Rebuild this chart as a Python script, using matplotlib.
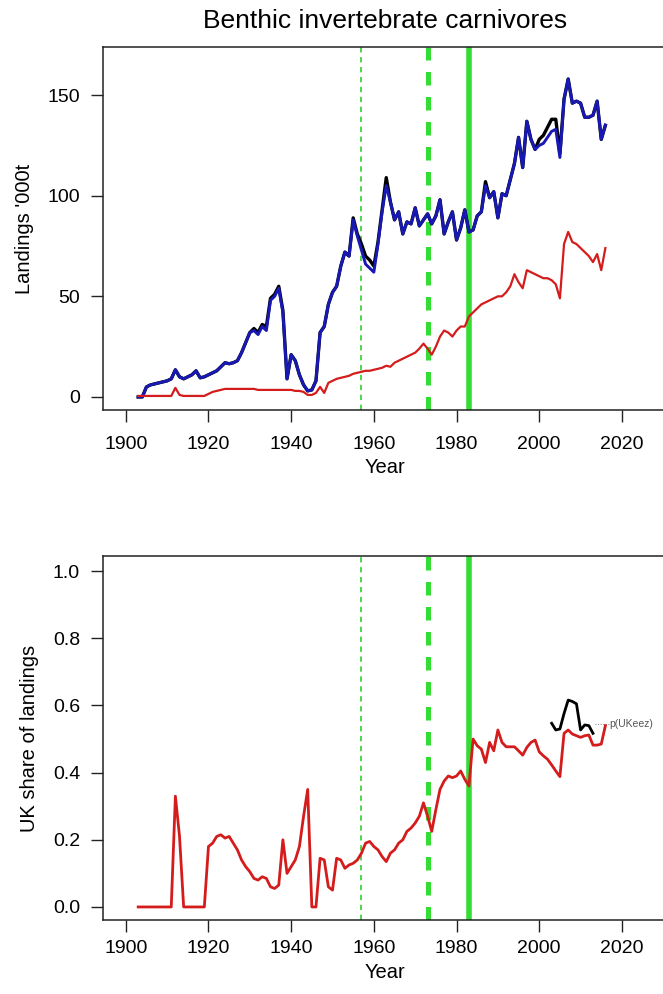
import numpy as np
import matplotlib
matplotlib.use('Agg')
from matplotlib import pyplot as plt

plt.rcParams['font.family'] = ['Liberation Sans', 'DejaVu Sans']

years = list(range(1903, 2017))

# landings '000t, total (black), total excl. something (blue), UK (red)
total_black = [0, 0, 5, 6, 6.5, 7, 7.5,
               8, 9, 13.5, 10, 9, 10, 11, 13, 9.5, 10,
               11, 12, 13, 15, 17, 16.5, 17, 18, 22, 27,
               32, 34, 32, 36, 35, 49, 51, 55, 43, 9,
               21, 18, 11, 6, 3, 3.5, 8, 32, 35, 46,
               52, 55, 65, 72, 70, 89, 81, 76, 70, 68,
               65, 77, 93, 109, 97, 88, 92, 81, 87, 86,
               94, 85, 88, 91, 86, 90, 98, 81, 87, 92,
               78, 84, 93, 82, 83, 90, 92, 107, 99, 102,
               89, 101, 100, 108, 116, 129, 114, 137, 128, 123,
               128, 130, 134, 138, 138, 121, 148, 158, 146, 147,
               146, 139, 139, 140, 147, 128, 135]
total_blue = [0, 0, 5, 6, 6.5, 7, 7.5,
              8, 9, 13.5, 10, 9, 10, 11, 13, 9.5, 10,
              11, 12, 13, 15, 17, 16.5, 17, 18, 22, 27,
              32, 33, 31, 35, 33, 48, 50, 54, 42, 9,
              21, 18, 11, 6, 3, 3.5, 8, 32, 35, 46,
              52, 55, 65, 72, 70, 88, 80, 73, 66, 64,
              62, 76, 92, 105, 97, 88, 92, 81, 87, 86,
              94, 85, 88, 91, 86, 90, 98, 81, 87, 92,
              78, 84, 93, 82, 83, 90, 92, 105, 99, 102,
              89, 101, 100, 108, 116, 129, 114, 137, 128, 123,
              125, 126, 129, 132, 133, 119, 148, 158, 146, 147,
              146, 139, 139, 140, 147, 128, 135]
uk_landings = [0.5, 0.5, 0.5, 0.5, 0.5, 0.5, 0.5,
               0.5, 0.5, 4.5, 1, 0.5, 0.5, 0.5, 0.5, 0.5, 0.5,
               1.5, 2.5, 3, 3.5, 4, 4, 4, 4, 4, 4,
               4, 4, 3.5, 3.5, 3.5, 3.5, 3.5, 3.5, 3.5, 3.5,
               3.5, 3, 3, 2.5, 1, 1, 2, 5, 2, 7,
               8, 9, 9.5, 10, 10.5, 11.5, 12, 12.5, 13, 13,
               13.5, 14, 14.5, 15.5, 15, 17, 18, 19, 20, 21,
               22, 24, 26.5, 24, 21, 25, 30, 33, 32, 30,
               33, 35, 35, 40, 42, 44, 46, 47, 48, 49,
               50, 50, 52, 55, 61, 57, 54, 63, 62, 61,
               60, 59, 59, 58, 56, 49, 76, 82, 77, 76,
               74, 72, 70, 67, 71, 63, 74]

uk_share = [0, 0, 0, 0, 0, 0, 0,
            0, 0, 0.33, 0.21, 0, 0, 0, 0, 0, 0,
            0.18, 0.19, 0.21, 0.215, 0.205, 0.21, 0.19, 0.17, 0.14, 0.12,
            0.105, 0.085, 0.08, 0.09, 0.085, 0.06, 0.055, 0.065, 0.2, 0.1,
            0.12, 0.14, 0.18, 0.27, 0.35, 0, 0, 0.145, 0.14, 0.06,
            0.05, 0.145, 0.14, 0.115, 0.125, 0.13, 0.14, 0.16, 0.19, 0.195,
            0.18, 0.17, 0.15, 0.135, 0.16, 0.17, 0.19, 0.2, 0.225, 0.235,
            0.25, 0.27, 0.31, 0.27, 0.225, 0.29, 0.35, 0.375, 0.39, 0.385,
            0.39, 0.405, 0.38, 0.36, 0.5, 0.48, 0.47, 0.43, 0.49, 0.465,
            0.527, 0.49, 0.477, 0.477, 0.477, 0.465, 0.452, 0.475, 0.49, 0.497,
            0.462, 0.45, 0.44, 0.423, 0.405, 0.388, 0.517, 0.527, 0.515, 0.51,
            0.505, 0.51, 0.512, 0.482, 0.482, 0.485, 0.54]

eez_years = list(range(2003, 2014))
eez_share = [0.547, 0.527, 0.53, 0.576, 0.616, 0.612, 0.605, 0.527, 0.542, 0.54, 0.517]
eez_label = 'p(UKeez)'

# regime change years
vline_years = [1957, 1973, 1983]
xticks = [1900, 1920, 1940, 1960, 1980, 2000, 2020]

green = '#33dd33'
red = '#d41c1c'
blue = '#1818b4'

fig = plt.figure(figsize=(6.63, 9.94), dpi=100)
ax1 = fig.add_axes([0.1554, 0.5875, 0.85, 0.3652])
ax2 = fig.add_axes([0.1554, 0.0744, 0.85, 0.3662])


def add_vlines(ax):
    ax.axvline(vline_years[0], color='#1fcc1f', lw=1.1, ls=(0, (3.5, 3)), zorder=1)
    ax.axvline(vline_years[1], color=green, lw=3.6, ls=(0, (2.7, 2.3)), zorder=1)
    ax.axvline(vline_years[2], color=green, lw=4, zorder=1)


def style_axes(ax, ylabel, xpad):
    ax.set_xlim(1894.5, 2030.8)
    ax.set_xticks(xticks)
    ax.tick_params(direction='out', length=8.5, width=1, labelsize=14, color='#222222')
    ax.tick_params(axis='y', pad=8)
    ax.tick_params(axis='x', pad=xpad)
    ax.set_xlabel('Year', fontsize=14.5, labelpad=4)
    ax.set_ylabel(ylabel, fontsize=14.5, labelpad=10)
    for s in ax.spines.values():
        s.set_linewidth(1.1)
        s.set_color('#222222')


# top panel: landings
add_vlines(ax1)
ax1.plot(years, total_black, color='black', lw=2.4, zorder=2)
ax1.plot(years, total_blue, color=blue, lw=2.1, zorder=3)
ax1.plot(years, uk_landings, color=red, lw=1.6, zorder=3)
ax1.set_ylim(-6.5, 173.9)
ax1.set_yticks([0, 50, 100, 150])
style_axes(ax1, "Landings '000t", 10)
ax1.set_title('Benthic invertebrate carnivores', fontsize=19, pad=14)

# bottom panel: UK share
add_vlines(ax2)
ax2.plot(years, uk_share, color=red, lw=2.0, zorder=3)
ax2.plot(eez_years, eez_share, color='black', lw=2.0, zorder=3)
ax2.plot([eez_years[-1] + 0.5, 2016.9], [0.545, 0.545], color='grey', lw=0.7, ls=':')
ax2.text(2017.0, 0.545, eez_label, fontsize=7.5, color='#555555', va='center', ha='left')
ax2.set_ylim(-0.039, 1.045)
ax2.set_yticks([0.0, 0.2, 0.4, 0.6, 0.8, 1.0])
ax2.set_yticklabels(['0.0', '0.2', '0.4', '0.6', '0.8', '1.0'])
style_axes(ax2, 'UK share of landings', 6)

fig.savefig('out.png', dpi=100)
